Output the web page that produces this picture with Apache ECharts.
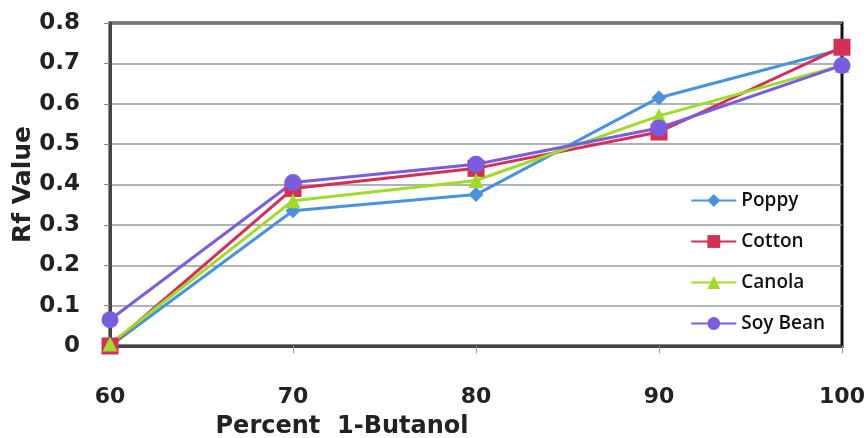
<!DOCTYPE html>
<html>
<head>
<meta charset="utf-8">
<script src="https://cdn.jsdelivr.net/npm/echarts@6/dist/echarts.min.js"></script>
<style>
  html, body { margin: 0; padding: 0; background: #fff; }
  #chart { width: 867px; height: 438px; }
</style>
</head>
<body>
<div id="chart"></div>
<script>
// Percent 1-Butanol in the mobile phase
const butanolPercent = [60, 70, 80, 90, 100];

// Rf values per oil
const poppy   = [0.000, 0.335, 0.375, 0.615, 0.735];
const cotton  = [0.000, 0.390, 0.440, 0.530, 0.740];
const canola  = [0.005, 0.360, 0.410, 0.570, 0.695];
const soyBean = [0.065, 0.405, 0.450, 0.540, 0.695];

const seriesNames = ['Poppy', 'Cotton', 'Canola', 'Soy Bean'];
const seriesValues = [poppy, cotton, canola, soyBean];
const seriesColors = ['#4a93dc', '#d42f55', '#9fdc2a', '#7a5ce0'];
const seriesSymbols = ['diamond', 'rect', 'triangle', 'circle'];
const symbolSizes = [15, 17, 15, 17];

const boldFont = 'DejaVu Sans';

const chart = echarts.init(document.getElementById('chart'));

const pair = (vals) => vals.map((v, i) => [butanolPercent[i], v]);

chart.setOption({
  animation: false,
  backgroundColor: '#fff',
  grid: {
    left: 110, right: 25, top: 23, bottom: 92,
    outerBoundsMode: 'none',
    containLabel: false,
    show: true, borderColor: '#111', borderWidth: 3
  },
  legend: {
    orient: 'vertical',
    right: 37,
    top: 186,
    itemWidth: 45,
    itemHeight: 16,
    itemGap: 22,
    data: seriesNames,
    textStyle: { fontFamily: 'Open Sans', fontWeight: 600, fontSize: 19, color: '#111' }
  },
  xAxis: {
    type: 'value',
    min: 60, max: 100, interval: 10,
    name: 'Percent  1-Butanol',
    nameLocation: 'middle',
    nameMoveOverlap: false,
    nameGap: 69,
    nameTextStyle: {
      fontFamily: boldFont, fontWeight: 'bold', fontSize: 24, color: '#222',
      padding: [0, 268, 0, 0]
    },
    axisLine: { show: true, lineStyle: { color: '#444', width: 3 } },
    axisTick: { show: true, length: 7, inside: false, lineStyle: { color: '#999', width: 1 } },
    axisLabel: { margin: 40, fontFamily: boldFont, fontWeight: 'bold', fontSize: 22, color: '#222' },
    splitLine: { show: false }
  },
  yAxis: {
    type: 'value',
    min: 0, max: 0.8, interval: 0.1,
    name: 'Rf Value',
    nameLocation: 'middle',
    nameMoveOverlap: false,
    nameGap: 74,
    nameTextStyle: { fontFamily: boldFont, fontWeight: 'bold', fontSize: 25, color: '#222' },
    axisLine: { show: true, lineStyle: { color: '#444', width: 3 } },
    axisTick: { show: true, length: 6, lineStyle: { color: '#888' } },
    axisLabel: {
      margin: 30, fontFamily: boldFont, fontWeight: 'bold', fontSize: 23, color: '#222',
      formatter: (v) => (v === 0 ? '0' : v.toFixed(1))
    },
    splitLine: { show: true, lineStyle: { color: '#8f9c9c', width: 1.5 } }
  },
  series: seriesNames.map((name, i) => ({
    name,
    type: 'line',
    data: pair(seriesValues[i]),
    symbol: seriesSymbols[i],
    symbolSize: symbolSizes[i],
    showAllSymbol: true,
    color: seriesColors[i],
    lineStyle: { width: 3, color: seriesColors[i] },
    itemStyle: { color: seriesColors[i] }
  }))
});
</script>
</body>
</html>
